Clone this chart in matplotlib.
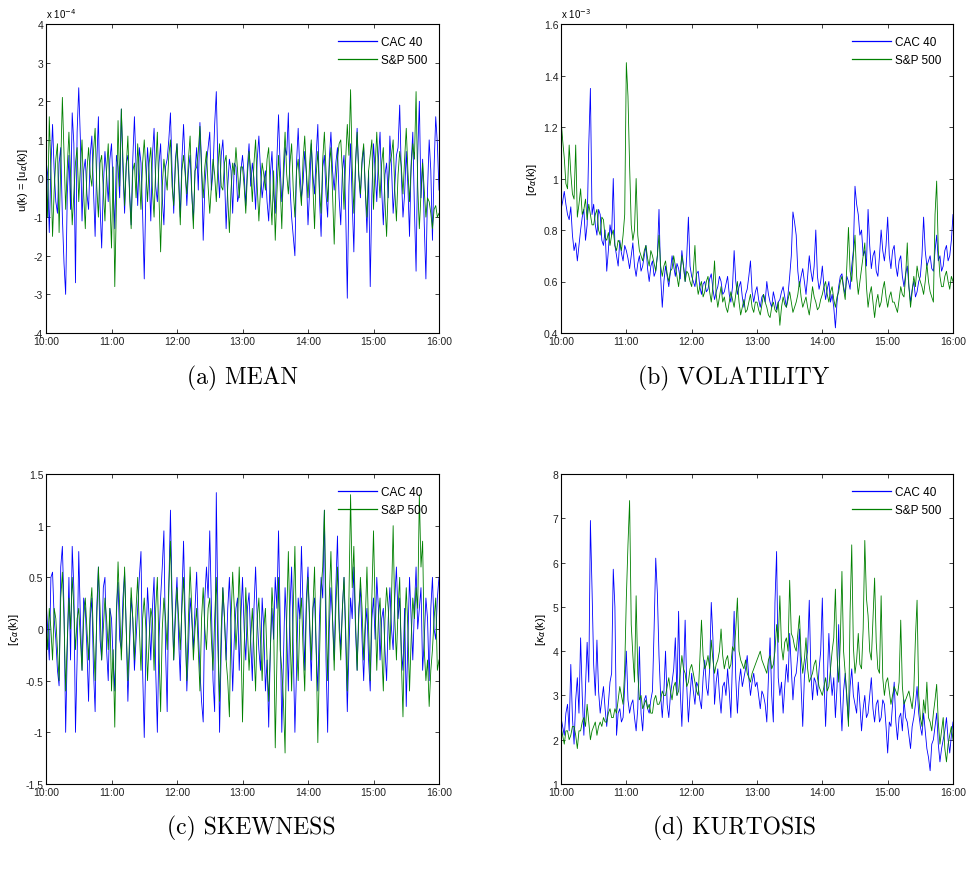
import numpy as np
import matplotlib
matplotlib.use('Agg')
from matplotlib import pyplot as plt
from matplotlib.ticker import FuncFormatter

# samples run evenly from 10:00 to 16:00 (minutes after 10:00)
time_ticks = [0, 60, 120, 180, 240, 300, 360]
time_labels = ['10:00', '11:00', '12:00', '13:00', '14:00', '15:00', '16:00']

# (a) mean, units of 1e-4
mean_cac = [0.5, 0.1, -1.4, 0.3, 1.4, 0.2, -0.6, -0.9, 0.4, 0.8, -1.0, -2.2, -3.0, -0.4, 0.6, -0.8, 1.7, 0.9, -2.7, 1.2,
            2.35, 1.0, -1.1, 0.2, 0.5, -0.4, -0.8, 0.6, 1.1, -0.3, -1.5, 0.4, 1.6, -0.7, -1.8, -0.2, 0.7, 0.1, -0.6, 0.5,
            0.9, -0.2, -1.3, 0.6, 0.3, -0.5, 1.8, 0.2, -0.9, 0.4, 0.6, -0.3, -1.2, 0.5, 1.6, 0.3, -0.7, 0.8, 0.4, -0.9,
            -2.6, -0.3, 0.8, 0.1, -1.1, 0.6, 1.3, -0.2, -0.6, 0.4, 0.9, -0.5, -1.2, 0.3, 0.5, 1.0, 1.7, 0.2, -0.9, 0.5,
            0.9, 0.1, -1.0, 0.5, 1.4, 0.3, -0.7, 0.2, 0.6, -0.4, -1.1, 0.2, 0.8, -0.3, 1.45, 0.4, -1.6, -0.2, 0.4, 0.8,
            1.2, -0.3, 0.2, 1.4, 2.25, 0.3, -0.5, 0.6, 1.0, 0.1, -1.3, -0.2, 0.5, 0.2, -0.9, 0.4, 0.3, -0.6, -0.4, 0.2,
            0.6, 0.1, -0.7, 0.3, 0.9, -0.2, 0.4, 0.0, -0.8, 0.5, 1.1, 0.2, -0.5, -0.1, 0.2, -0.6, -1.1, 0.1, 0.7, -0.4,
            -0.9, 0.5, 1.65, 0.3, -0.6, -0.1, 0.8, 0.6, 1.7, -0.2, -1.0, -1.5, -2.0, 0.4, 1.3, 0.2, -0.5, -0.1, 0.7, 0.1,
            -1.2, -0.3, 0.9, 0.1, -0.4, 0.6, 1.4, -0.5, -1.5, 0.3, 0.6, -0.4, -1.0, 0.5, 1.2, 0.2, -0.3, 0.4, 0.8, -0.5,
            -1.2, 0.2, 0.6, -0.8, -3.1, -0.2, 0.9, -0.6, -1.9, 0.3, 1.3, 0.1, -0.5, 0.4, 0.8, -0.3, -1.4, 0.2, -2.8, -0.4,
            0.9, 0.2, -0.6, 0.5, 1.2, -0.3, -1.2, 0.1, 0.4, -0.5, 1.1, 0.3, -0.9, -0.2, 0.6, 0.8, 1.9, 0.1, -1.0, -0.4,
            0.7, -0.2, -1.5, 0.4, 1.2, -0.8, -2.4, 0.6, 2.0, -0.5, 0.5, -1.2, -2.6, -0.3, 1.0, 0.2, -1.6, 0.3, 1.6, 0.9, -0.3]
mean_sp = [0.3, -1.0, 1.6, 0.2, -1.5, -0.3, 0.5, 0.9, -1.4, 0.4, 2.1, 0.6, -0.8, 0.3, 1.2, 0.1, -1.2, -0.4, 0.4, 0.8,
           -0.6, 0.3, 1.0, -0.4, -1.3, 0.2, 0.8, 0.1, -0.2, 0.7, 1.3, -0.2, -1.0, 0.4, 0.6, -0.3, -1.1, 0.2, 0.9, -0.5,
           -1.8, 0.3, -2.8, -0.6, 1.5, -0.2, 1.8, 0.5, -0.7, 0.3, 1.1, -0.4, -1.3, 0.2, 0.4, -0.5, 0.9, 0.1, -0.8, 0.4,
           1.0, 0.2, -0.6, 0.4, 0.8, -0.3, -1.0, 0.3, 1.2, -0.5, -1.9, -0.2, 0.5, 0.1, -0.3, 0.6, 1.0, -0.2, -0.7, 0.3,
           0.9, -0.1, -1.2, 0.2, 0.6, 0.1, -0.4, 0.5, 1.1, -0.3, -1.3, 0.2, 0.3, 0.7, 1.35, 0.2, -0.5, 0.3, 0.7, -0.2,
           -0.9, -0.2, 0.5, 0.1, -0.6, 0.3, 0.9, -0.2, -0.3, 0.4, 0.6, -0.5, -1.4, -0.3, 0.4, 0.1, 0.8, 0.2, -0.5, 0.3,
           0.3, -0.2, -0.9, 0.1, 0.7, 0.2, -0.6, 0.4, 1.0, -0.2, -1.1, -0.3, 0.4, 0.1, -0.3, 0.5, 0.8, -0.4, -1.2, 0.2,
           -1.6, -0.4, 0.6, -0.2, -1.3, 0.3, 1.2, 0.1, -0.4, 0.4, 0.9, -0.3, -1.0, 0.2, 0.5, -0.2, -0.7, 0.5, 1.1, 0.2,
           -0.5, 0.4, 1.0, -0.2, -1.3, 0.1, 0.7, -0.3, -0.9, 0.5, 1.2, 0.2, -0.6, 0.3, 0.8, -0.4, -1.7, -0.2, 0.5, 0.9,
           1.0, 0.2, -0.8, 0.5, 1.4, 0.6, 2.3, 0.3, -0.9, 0.4, 1.2, 0.1, -0.4, 0.5, 0.9, -0.3, -1.0, 0.2, 0.6, 1.0,
           -0.8, 0.3, 1.2, 0.2, -0.5, 0.4, 0.8, -0.6, -1.5, -0.2, 0.4, 0.6, 1.0, -0.3, -1.1, 0.1, 0.7, 0.3, -0.4, 0.5,
           1.3, 0.2, -0.6, 0.3, 0.9, 0.5, 2.25, -0.2, -1.3, -0.4, 0.4, -0.3, -1.0, -0.5, -0.6, -0.9, -1.3, -0.8, -0.7, -1.0, -0.9]

# (b) volatility, units of 1e-3
vol_cac = [0.88, 0.91, 0.95, 0.90, 0.86, 0.84, 0.89, 0.78, 0.72, 0.75, 0.68, 0.74, 0.80, 0.85, 0.88, 0.76, 0.82, 1.13, 1.35, 0.86,
           0.90, 0.82, 0.78, 0.88, 0.86, 0.76, 0.74, 0.80, 0.64, 0.72, 0.82, 0.78, 1.00, 0.74, 0.70, 0.66, 0.76, 0.71, 0.68, 0.74,
           0.72, 0.69, 0.65, 0.70, 0.75, 0.66, 0.62, 0.67, 0.70, 0.64, 0.66, 0.70, 0.74, 0.65, 0.60, 0.66, 0.68, 0.62, 0.64, 0.70,
           0.88, 0.62, 0.50, 0.60, 0.66, 0.62, 0.58, 0.64, 0.70, 0.66, 0.62, 0.67, 0.65, 0.61, 0.72, 0.66, 0.60, 0.70, 0.85, 0.66,
           0.62, 0.60, 0.58, 0.63, 0.64, 0.58, 0.55, 0.59, 0.60, 0.56, 0.57, 0.61, 0.63, 0.57, 0.53, 0.56, 0.58, 0.62, 0.60, 0.55,
           0.56, 0.59, 0.62, 0.55, 0.52, 0.58, 0.72, 0.60, 0.55, 0.58, 0.60, 0.54, 0.50, 0.55, 0.57, 0.62, 0.68, 0.56, 0.52, 0.56,
           0.58, 0.53, 0.50, 0.54, 0.55, 0.52, 0.60, 0.55, 0.52, 0.50, 0.56, 0.53, 0.49, 0.52, 0.53, 0.56, 0.58, 0.54, 0.50, 0.55,
           0.62, 0.70, 0.87, 0.83, 0.78, 0.64, 0.58, 0.62, 0.65, 0.60, 0.55, 0.62, 0.70, 0.64, 0.60, 0.66, 0.80, 0.62, 0.57, 0.60,
           0.66, 0.58, 0.53, 0.57, 0.60, 0.52, 0.55, 0.50, 0.42, 0.52, 0.58, 0.62, 0.63, 0.58, 0.55, 0.62, 0.60, 0.57, 0.66, 0.72,
           0.97, 0.90, 0.86, 0.78, 0.80, 0.70, 0.72, 0.66, 0.88, 0.74, 0.65, 0.70, 0.72, 0.64, 0.62, 0.70, 0.80, 0.72, 0.68, 0.74,
           0.85, 0.70, 0.65, 0.72, 0.74, 0.66, 0.62, 0.68, 0.70, 0.62, 0.58, 0.63, 0.66, 0.58, 0.52, 0.57, 0.60, 0.54, 0.56, 0.60,
           0.62, 0.70, 0.85, 0.72, 0.66, 0.68, 0.70, 0.65, 0.64, 0.72, 0.78, 0.68, 0.70, 0.64, 0.66, 0.72, 0.74, 0.68, 0.70, 0.76, 0.86]
vol_sp = [1.23, 1.15, 1.08, 0.98, 0.96, 1.13, 1.02, 0.94, 0.92, 1.13, 0.85, 0.90, 0.96, 0.86, 0.88, 0.92, 0.84, 0.90, 0.86, 0.82,
          0.82, 0.86, 0.88, 0.80, 0.78, 0.85, 0.84, 0.77, 0.76, 0.79, 0.74, 0.78, 0.80, 0.74, 0.72, 0.76, 0.75, 0.72, 0.78, 0.86,
          1.45, 1.32, 1.05, 0.82, 0.76, 0.80, 1.00, 0.78, 0.72, 0.70, 0.68, 0.72, 0.74, 0.69, 0.66, 0.72, 0.70, 0.67, 0.64, 0.70,
          0.78, 0.66, 0.62, 0.66, 0.68, 0.63, 0.60, 0.64, 0.65, 0.70, 0.66, 0.62, 0.58, 0.64, 0.70, 0.66, 0.60, 0.64, 0.63, 0.60,
          0.58, 0.64, 0.74, 0.60, 0.55, 0.58, 0.60, 0.54, 0.56, 0.60, 0.62, 0.56, 0.52, 0.58, 0.68, 0.55, 0.50, 0.54, 0.58, 0.52,
          0.54, 0.50, 0.48, 0.52, 0.56, 0.53, 0.50, 0.55, 0.60, 0.52, 0.47, 0.50, 0.53, 0.48, 0.49, 0.52, 0.55, 0.50, 0.48, 0.52,
          0.52, 0.49, 0.47, 0.51, 0.55, 0.52, 0.50, 0.47, 0.46, 0.50, 0.52, 0.49, 0.48, 0.52, 0.43, 0.50, 0.54, 0.51, 0.50, 0.53,
          0.56, 0.52, 0.48, 0.50, 0.52, 0.55, 0.60, 0.54, 0.50, 0.52, 0.54, 0.50, 0.47, 0.52, 0.58, 0.54, 0.52, 0.49, 0.50, 0.53,
          0.55, 0.58, 0.60, 0.55, 0.52, 0.56, 0.58, 0.53, 0.50, 0.54, 0.56, 0.60, 0.62, 0.57, 0.53, 0.66, 0.81, 0.64, 0.60, 0.70,
          0.78, 0.62, 0.55, 0.60, 0.65, 0.70, 0.75, 0.58, 0.50, 0.55, 0.58, 0.52, 0.46, 0.52, 0.55, 0.50, 0.52, 0.57, 0.60, 0.54,
          0.50, 0.54, 0.56, 0.52, 0.52, 0.50, 0.48, 0.53, 0.58, 0.55, 0.54, 0.62, 0.75, 0.58, 0.50, 0.56, 0.62, 0.58, 0.66, 0.62,
          0.60, 0.58, 0.55, 0.60, 0.67, 0.60, 0.56, 0.54, 0.52, 0.86, 0.99, 0.72, 0.62, 0.58, 0.58, 0.62, 0.64, 0.60, 0.57, 0.62, 0.60]

# (c) skewness
skew_cac = [0.3, 0.0, -0.3, 0.5, 0.55, 0.1, -0.1, -0.4, -0.55, 0.6, 0.8, 0.2, -1.0, -0.2, 0.5, -0.3, 0.8, 0.4, -1.0, -0.3,
            0.75, 0.1, -0.4, 0.3, 0.2, -0.2, -0.7, 0.1, 0.3, -0.4, -0.8, 0.2, 0.6, -0.1, -0.3, 0.4, 0.5, -0.2, -0.5, 0.2,
            0.1, -0.3, -0.6, 0.2, 0.45, -0.1, -0.2, 0.3, 0.55, 0.0, -0.7, -0.2, 0.3, 0.1, -0.4, -0.1, 0.2, 0.5, 0.75, -0.4,
            -1.05, -0.2, 0.4, 0.1, -0.3, 0.2, 0.5, -0.4, -1.0, -0.1, 0.3, 0.6, 0.95, -0.2, -0.8, 0.4, 1.15, 0.3, -0.3, 0.2,
            0.5, -0.1, -0.5, 0.3, 0.85, 0.1, -0.6, -0.2, 0.3, 0.1, -0.2, 0.2, 0.55, 0.0, -0.4, -0.7, -0.9, 0.3, 0.6, 0.3,
            0.95, 0.2, -0.5, -0.8, 1.32, 0.1, -1.0, -0.2, 0.4, 0.1, -0.3, 0.2, 0.5, 0.0, -0.6, -0.1, 0.2, 0.3, -0.4, 0.1,
            0.5, 0.0, -0.3, 0.2, 0.35, -0.1, -0.5, 0.2, 0.6, 0.1, -0.2, -0.4, 0.3, 0.0, -0.6, -0.3, -0.95, -0.2, 0.2, -0.1,
            0.5, 0.2, 0.95, 0.1, -1.0, -0.3, 0.4, 0.0, -0.6, 0.2, 0.6, -0.2, -1.0, -0.4, 0.3, 0.1, 0.8, 0.2, -0.4, 0.3,
            0.6, 0.0, -0.5, 0.2, 0.3, -0.2, -0.6, 0.1, 0.5, 0.3, 1.15, -0.3, -1.0, 0.0, 0.4, 0.1, -0.3, 0.4, 0.9, 0.1,
            -0.2, 0.2, 0.5, -0.1, -0.8, -0.2, 0.3, 0.1, 0.6, 0.0, -0.4, 0.2, 0.4, -0.1, -0.5, 0.0, 0.2, -0.3, -0.6, 0.1,
            0.3, -0.1, 0.5, 0.2, -0.3, 0.1, 0.2, -0.2, -0.5, 0.1, 0.4, 0.0, -0.2, 0.3, 0.6, 0.1, 0.3, -0.2, -0.4, 0.2,
            -0.75, -0.1, 0.5, 0.1, -0.3, 0.2, 0.6, 0.0, 0.2, 0.4, -0.4, -0.1, 0.3, 0.1, -0.5, 0.2, 0.5, 0.0, -0.1, 0.3, 0.5]
skew_sp = [0.1, -0.2, 0.2, 0.0, -0.3, 0.2, 0.1, -0.2, -0.5, 0.3, 0.55, 0.1, -0.6, -0.1, 0.3, 0.0, 0.5, 0.2, -0.2, 0.1,
           0.2, -0.1, -0.4, 0.1, 0.3, 0.0, -0.3, 0.2, 0.4, -0.1, -0.5, 0.1, 0.6, 0.2, -0.3, 0.0, 0.3, 0.1, -0.2, 0.2,
           -0.6, -0.2, -0.95, 0.1, 0.65, 0.2, -0.3, 0.1, 0.6, 0.0, -0.5, -0.1, 0.4, 0.1, -0.3, 0.2, 0.5, 0.0, -0.4, 0.1,
           0.3, 0.0, -0.5, -0.1, 0.2, 0.1, -0.4, 0.2, 0.5, -0.2, -0.8, 0.0, 0.3, 0.1, -0.2, 0.4, 0.85, 0.2, -0.3, 0.1,
           0.4, 0.1, -0.2, 0.2, 0.5, 0.0, -0.5, 0.1, 0.6, 0.2, -0.3, 0.0, 0.2, -0.2, -0.6, 0.1, 0.4, 0.0, -0.2, 0.2,
           0.3, -0.1, -0.4, 0.1, 0.5, -0.2, -0.7, 0.0, 0.4, 0.1, -0.3, -0.5, -0.85, 0.1, 0.55, 0.2, -0.2, 0.1, 0.6, 0.0,
           -0.9, -0.2, 0.4, 0.0, -0.4, -0.1, 0.2, -0.2, -0.6, 0.1, 0.3, -0.1, -0.5, 0.0, 0.2, -0.3, -0.7, -0.2, 0.4, 0.1,
           -1.15, -0.3, 0.5, -0.2, -0.4, -0.7, -1.2, 0.1, 0.75, 0.0, -0.6, 0.2, 0.8, -0.1, -0.5, 0.1, 0.3, -0.2, -0.6, 0.2,
           0.5, 0.1, -0.3, 0.2, 0.6, -0.2, -1.1, -0.3, 0.4, 0.6, 1.15, 0.2, -0.5, 0.3, 0.75, 0.1, -0.4, 0.2, 0.6, 0.0,
           -0.3, 0.2, 0.5, 0.0, -0.6, 0.3, 1.3, 0.4, 0.8, 0.1, -0.4, 0.1, 0.5, 0.2, -0.3, 0.1, 0.6, 0.0, -0.5, 0.3,
           0.95, 0.2, -0.4, 0.1, 0.3, -0.2, -0.6, 0.1, 0.4, 0.2, -0.2, 0.3, 1.0, 0.1, -0.3, 0.2, 0.5, -0.3, -0.85, 0.0,
           0.4, 0.0, -0.6, -0.1, 0.3, 0.1, 0.4, 0.2, 1.3, 0.6, 0.85, -0.2, -0.5, -0.3, -0.75, -0.4, -0.2, 0.1, 0.3, -0.4, -0.3]

# (d) kurtosis
kurt_cac = [2.5, 2.3, 2.1, 2.6, 2.8, 2.2, 3.7, 2.5, 1.9, 2.9, 3.4, 2.6, 4.3, 3.0, 2.1, 3.2, 4.2, 3.3, 6.95, 5.4,
            3.7, 3.0, 4.25, 3.1, 2.6, 2.9, 3.2, 2.7, 2.3, 2.8, 3.3, 3.5, 5.85, 5.0, 2.1, 2.6, 2.7, 2.4, 2.5, 3.2,
            4.0, 2.9, 2.6, 2.8, 2.9, 2.5, 2.2, 2.7, 4.1, 2.6, 2.2, 2.9, 3.0, 2.7, 2.6, 2.9, 3.1, 4.5, 6.1, 5.3,
            3.9, 3.0, 2.5, 3.1, 4.0, 2.8, 2.5, 3.0, 3.3, 3.6, 4.3, 3.0, 4.9, 3.1, 2.3, 3.4, 4.7, 3.2, 2.4, 3.0,
            3.5, 3.1, 2.8, 3.3, 3.2, 2.9, 2.7, 3.4, 3.8, 3.2, 3.0, 3.6, 5.1, 4.3, 2.8, 3.3, 3.6, 3.0, 2.6, 3.2,
            3.3, 3.0, 3.6, 3.1, 2.5, 3.8, 4.9, 3.4, 2.6, 3.3, 3.6, 3.2, 3.4, 3.6, 3.9, 3.4, 3.0, 3.3, 3.5, 3.2,
            3.3, 3.0, 2.7, 3.1, 3.0, 2.8, 2.4, 3.4, 4.3, 3.0, 2.4, 5.1, 6.25, 3.4, 3.0, 3.3, 2.6, 3.2, 3.7, 3.3,
            4.4, 3.6, 2.9, 3.4, 3.5, 3.9, 4.5, 3.2, 2.3, 3.4, 3.8, 4.0, 5.15, 3.5, 2.9, 3.4, 3.3, 3.0, 3.6, 4.0,
            5.2, 3.4, 2.3, 3.3, 4.4, 3.5, 3.0, 3.4, 2.5, 3.2, 4.6, 3.0, 2.2, 3.1, 3.5, 2.9, 2.4, 3.2, 3.6, 3.0,
            2.8, 2.6, 3.3, 2.8, 2.2, 2.7, 3.0, 2.5, 2.6, 3.0, 3.4, 2.7, 2.4, 2.8, 2.9, 2.4, 2.5, 2.9, 2.8, 2.3,
            1.7, 2.4, 2.3, 2.8, 3.3, 2.4, 2.0, 2.5, 2.6, 2.2, 2.9, 2.5, 2.4, 2.1, 1.8, 2.3, 2.5, 2.8, 3.2, 2.6,
            2.3, 2.1, 2.6, 2.2, 1.8, 1.6, 1.3, 1.9, 2.0, 2.3, 2.6, 1.9, 1.5, 1.8, 2.0, 2.2, 2.5, 2.0, 1.7, 2.1, 2.4]
kurt_sp = [2.3, 2.1, 1.9, 2.2, 2.2, 2.0, 2.1, 2.3, 2.3, 2.1, 1.8, 2.2, 2.2, 2.4, 2.5, 2.3, 2.8, 2.4, 2.0, 2.2,
           2.3, 2.4, 2.1, 2.3, 2.4, 2.3, 2.5, 2.4, 2.4, 2.6, 2.7, 2.5, 2.5, 2.7, 2.6, 2.9, 3.2, 3.0, 2.8, 3.6,
           5.2, 6.4, 7.4, 4.6, 3.9, 3.3, 5.25, 3.5, 2.9, 3.0, 2.7, 2.8, 2.9, 2.7, 2.8, 2.6, 2.6, 2.9, 3.0, 2.8,
           2.8, 2.9, 3.1, 3.0, 3.0, 3.2, 3.4, 3.1, 2.9, 3.2, 3.3, 3.0, 3.1, 3.5, 3.9, 3.6, 3.5, 3.2, 3.3, 3.6,
           3.7, 3.5, 3.3, 3.1, 3.0, 3.8, 4.7, 3.9, 3.6, 3.7, 3.9, 3.6, 4.25, 3.8, 3.5, 3.7, 3.8, 4.0, 4.5, 3.9,
           3.6, 3.8, 3.9, 3.6, 3.7, 4.1, 4.0, 4.5, 5.2, 4.0, 3.8, 3.7, 3.6, 3.8, 3.5, 3.4, 3.3, 3.5, 3.6, 3.7,
           3.8, 3.9, 4.0, 3.8, 3.7, 3.6, 3.5, 3.8, 3.9, 3.6, 3.7, 4.0, 4.6, 4.2, 5.25, 4.1, 3.8, 4.2, 4.3, 4.0,
           5.6, 4.4, 4.3, 4.1, 4.0, 4.4, 4.8, 3.9, 3.5, 3.8, 4.3, 3.6, 3.3, 3.4, 3.5, 3.7, 3.8, 3.4, 3.2, 3.1,
           3.0, 3.2, 3.4, 3.1, 3.2, 3.6, 4.0, 4.3, 5.4, 3.9, 3.3, 4.2, 5.8, 4.0, 3.5, 3.0, 2.3, 4.9, 6.4, 4.1,
           3.5, 3.8, 4.4, 3.7, 3.6, 4.5, 6.5, 5.2, 4.8, 4.0, 3.8, 4.7, 5.65, 4.2, 3.6, 3.5, 5.25, 3.4, 3.0, 3.3,
           3.4, 3.1, 2.8, 3.0, 3.2, 3.1, 3.0, 3.3, 4.7, 3.2, 2.8, 2.9, 3.0, 3.1, 2.9, 2.7, 3.1, 4.3, 5.15, 3.0,
           2.5, 2.3, 2.9, 2.6, 3.3, 2.5, 2.4, 2.2, 2.6, 2.9, 3.25, 2.4, 1.9, 2.2, 2.5, 1.8, 1.5, 1.9, 2.1, 2.3, 2.0]

BLUE = (0, 0, 1)
GREEN = (0, 0.5, 0)
plt.rcParams['font.family'] = 'Liberation Sans'
plt.rcParams['mathtext.fontset'] = 'dejavusans'


def panel(ax, cac, sp, ylim, yticks, ylabel, caption, cap_x, cap_y, scale=None):
    ax.plot(np.linspace(0, 360, len(cac)), cac, color=BLUE, lw=0.6, label='CAC 40')
    ax.plot(np.linspace(0, 360, len(sp)), sp, color=GREEN, lw=0.6, label='S&P 500')
    ax.set_xlim(0, 360)
    ax.set_ylim(*ylim)
    ax.set_xticks(time_ticks)
    ax.set_xticklabels(time_labels)
    ax.set_yticks(yticks)
    ax.yaxis.set_major_formatter(FuncFormatter(lambda v, p: '%g' % round(v, 4)))
    ax.tick_params(direction='in', top=True, right=True, labelsize=7.5,
                   length=3, width=0.6, pad=2, colors='#222222')
    for s in ax.spines.values():
        s.set_linewidth(0.8)
    ax.set_ylabel(ylabel, fontsize=8, labelpad=3)
    leg = ax.legend(loc='upper right', frameon=False, fontsize=8.5, handlelength=3.3,
                    handletextpad=0.3, labelspacing=0.5, borderaxespad=0.6)
    for h in leg.get_lines():
        h.set_linewidth(0.9)
    if scale:
        ax.text(0.0, 1.012, scale, transform=ax.transAxes, fontsize=7,
                ha='left', va='bottom')
    fig.text(cap_x, cap_y, caption, family='cmr10', fontsize=17,
             ha='center', va='center')


fig = plt.figure(figsize=(9.71, 8.7), dpi=100)
ax_a = fig.add_axes([46 / 971, 1 - 334 / 870, 393 / 971, 309 / 870])
ax_b = fig.add_axes([561 / 971, 1 - 334 / 870, 392 / 971, 309 / 870])
ax_c = fig.add_axes([46 / 971, 1 - 785 / 870, 393 / 971, 310 / 870])
ax_d = fig.add_axes([561 / 971, 1 - 785 / 870, 392 / 971, 310 / 870])

panel(ax_a, mean_cac, mean_sp, (-4, 4), range(-4, 5),
      r'u(k) = [u$_{\alpha}$(k)]', '(a) MEAN', 242 / 971, 1 - 378 / 870,
      r'x 10$^{-4}$')
panel(ax_b, vol_cac, vol_sp, (0.4, 1.6), np.arange(0.4, 1.61, 0.2),
      r'[$\sigma_{\alpha}$(k)]', '(b) VOLATILITY', 734 / 971, 1 - 378 / 870,
      r'x 10$^{-3}$')
panel(ax_c, skew_cac, skew_sp, (-1.5, 1.5), np.arange(-1.5, 1.51, 0.5),
      r'[$\varsigma_{\alpha}$(k)]', '(c) SKEWNESS', 251 / 971, 1 - 828 / 870)
panel(ax_d, kurt_cac, kurt_sp, (1, 8), range(1, 9),
      r'[$\kappa_{\alpha}$(k)]', '(d) KURTOSIS', 734 / 971, 1 - 828 / 870)

fig.savefig('out.png', dpi=100)
